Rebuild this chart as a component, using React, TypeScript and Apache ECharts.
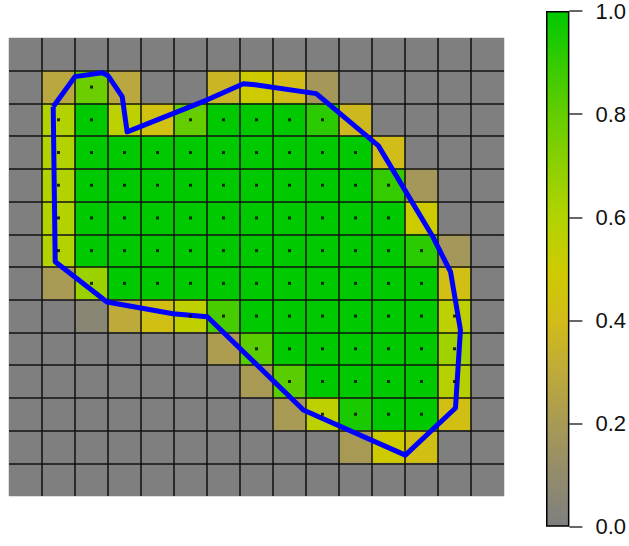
import React, { useEffect, useRef } from "react";
import * as echarts from "echarts";

// Raster values (rows listed top to bottom, 15 columns each)
const CELL_VALUES: number[][] = [
  [0, 0, 0, 0, 0, 0, 0, 0, 0, 0, 0, 0, 0, 0, 0],
  [0, 0.28, 0.78, 0.28, 0, 0, 0.36, 0.5, 0.4, 0.18, 0, 0, 0, 0, 0],
  [0, 0.6, 1, 0.56, 0.43, 0.8, 1, 1, 1, 0.92, 0.38, 0, 0, 0, 0],
  [0, 0.6, 1, 1, 1, 1, 1, 1, 1, 1, 1, 0.4, 0, 0, 0],
  [0, 0.6, 1, 1, 1, 1, 1, 1, 1, 1, 1, 0.9, 0.18, 0, 0],
  [0, 0.6, 1, 1, 1, 1, 1, 1, 1, 1, 1, 1, 0.5, 0, 0],
  [0, 0.6, 1, 1, 1, 1, 1, 1, 1, 1, 1, 1, 0.92, 0.18, 0],
  [0, 0.2, 0.66, 1, 1, 1, 1, 1, 1, 1, 1, 1, 1, 0.42, 0],
  [0, 0, 0.05, 0.3, 0.42, 0.55, 0.86, 1, 1, 1, 1, 1, 1, 0.56, 0],
  [0, 0, 0, 0, 0, 0, 0.22, 0.82, 1, 1, 1, 1, 1, 0.65, 0],
  [0, 0, 0, 0, 0, 0, 0, 0.2, 0.82, 1, 1, 1, 1, 0.58, 0],
  [0, 0, 0, 0, 0, 0, 0, 0, 0.2, 0.56, 0.95, 1, 1, 0.42, 0],
  [0, 0, 0, 0, 0, 0, 0, 0, 0, 0, 0.2, 0.5, 0.42, 0, 0],
  [0, 0, 0, 0, 0, 0, 0, 0, 0, 0, 0, 0, 0, 0, 0],
];

// Columns (per row, top to bottom) whose cell centre carries a dot
const DOT_COLUMNS: number[][] = [
  [],
  [2],
  [1, 2, 5, 6, 7, 8, 9],
  [1, 2, 3, 4, 5, 6, 7, 8, 9, 10],
  [1, 2, 3, 4, 5, 6, 7, 8, 9, 10, 11],
  [1, 2, 3, 4, 5, 6, 7, 8, 9, 10, 11],
  [1, 2, 3, 4, 5, 6, 7, 8, 9, 10, 11, 12],
  [2, 3, 4, 5, 6, 7, 8, 9, 10, 11, 12],
  [5, 6, 7, 8, 9, 10, 11, 12, 13],
  [7, 8, 9, 10, 11, 12, 13],
  [8, 9, 10, 11, 12, 13],
  [9, 10, 11, 12],
  [],
  [],
];

// Polygon outline (x from left edge, y from bottom edge, in cell units)
const POLY_X = [1.34, 2.0, 2.82, 3.0, 3.43, 3.58, 6.01, 7.1, 7.46, 9.31, 11.19, 12.83, 13.38, 13.68, 13.53, 12.01, 8.92, 6.01, 4.97, 2.97, 1.4, 1.34];
const POLY_Y = [11.9, 12.82, 12.94, 12.85, 12.21, 11.13, 12.11, 12.6, 12.57, 12.3, 10.71, 7.95, 6.85, 5.08, 2.69, 1.25, 2.63, 5.48, 5.57, 5.93, 7.16, 11.9];

// Colour scale
const COLOR_STOPS = [
  "#7F7F7F", "#938C6B", "#A89A55", "#BEAA3A", "#D2BC18", "#CDCB00",
  "#B2D300", "#8DD000", "#64CD00", "#34CB00", "#00C900",
];
const SCALE_MIN = 0;
const SCALE_MAX = 1;
const SCALE_TICK = 0.2;

const NCOLS = 15;
const NROWS = 14;

export default function App() {
  const ref = useRef<HTMLDivElement>(null);

  useEffect(() => {
    const chart = echarts.init(ref.current!, null, { renderer: "svg" });

    const cells: number[][] = [];
    CELL_VALUES.forEach((row, r) => {
      row.forEach((v, c) => {
        cells.push([c, NROWS - 1 - r, v]);
      });
    });
    const dots: number[][] = [];
    DOT_COLUMNS.forEach((cols, r) => {
      cols.forEach((c) => dots.push([c + 0.5, NROWS - 1 - r + 0.5]));
    });
    const poly = POLY_X.map((x, i) => [x, POLY_Y[i]]);

    const gradient = new echarts.graphic.LinearGradient(
      0, 1, 0, 0,
      COLOR_STOPS.map((color, i) => ({ offset: i / (COLOR_STOPS.length - 1), color }))
    );

    const hiddenAxisParts = {
      axisLine: { show: false },
      axisTick: { show: false },
      axisLabel: { show: false },
    };

    chart.setOption({
      animation: false,
      backgroundColor: "#ffffff",
      grid: [
        { left: 9, top: 38, width: 495, height: 458 },
        { left: 546, top: 5.7, width: 24.7, height: 521 },
      ],
      xAxis: [
        {
          type: "value", gridIndex: 0, min: 0, max: NCOLS, interval: 1, z: 5,
          ...hiddenAxisParts,
          splitLine: { show: true, showMinLine: false, showMaxLine: false, lineStyle: { color: "#111", width: 1.5 } },
        },
        { type: "category", gridIndex: 1, data: ["scale"], show: false },
      ],
      yAxis: [
        {
          type: "value", gridIndex: 0, min: 0, max: NROWS, interval: 1, z: 5,
          ...hiddenAxisParts,
          splitLine: { show: true, showMinLine: false, showMaxLine: false, lineStyle: { color: "#111", width: 1.5 } },
        },
        {
          type: "value", gridIndex: 1, min: SCALE_MIN, max: SCALE_MAX, interval: SCALE_TICK,
          position: "right",
          axisLine: { show: false },
          axisTick: { show: true, length: 13, lineStyle: { color: "#333", width: 1.5 } },
          splitLine: { show: false },
          axisLabel: {
            show: true,
            margin: 26,
            fontSize: 22,
            fontFamily: "Liberation Sans, Arial, sans-serif",
            color: "#111",
            padding: [5, 0, 0, 0],
            formatter: (v: number) => v.toFixed(1),
          },
        },
      ],
      visualMap: {
        type: "continuous",
        show: false,
        min: SCALE_MIN,
        max: SCALE_MAX,
        dimension: 2,
        seriesIndex: 0,
        inRange: { color: COLOR_STOPS },
      },
      series: [
        {
          type: "custom",
          xAxisIndex: 0,
          yAxisIndex: 0,
          z: 2,
          data: cells,
          renderItem: (params: any, api: any) => {
            const x = api.value(0);
            const y = api.value(1);
            const p0 = api.coord([x, y + 1]);
            const p1 = api.coord([x + 1, y]);
            return {
              type: "rect",
              shape: { x: p0[0], y: p0[1], width: p1[0] - p0[0], height: p1[1] - p0[1] },
              style: { fill: api.visual("color"), stroke: api.visual("color"), lineWidth: 0.5 },
            };
          },
        },
        {
          type: "line",
          xAxisIndex: 0,
          yAxisIndex: 0,
          z: 10,
          data: poly,
          symbol: "none",
          lineStyle: { color: "#0000FF", width: 5, join: "round" },
        },
        {
          type: "scatter",
          xAxisIndex: 0,
          yAxisIndex: 0,
          z: 12,
          data: dots,
          symbol: "rect",
          symbolSize: 3,
          itemStyle: { color: "#000" },
        },
        {
          type: "bar",
          xAxisIndex: 1,
          yAxisIndex: 1,
          data: [SCALE_MAX],
          barWidth: "100%",
          itemStyle: { color: gradient, borderColor: "#000", borderWidth: 1.5 },
        },
      ],
    });

    return () => chart.dispose();
  }, []);

  return (
    <div
      ref={ref}
      style={{ position: "absolute", left: 0, top: 0, width: 629, height: 546, background: "#fff" }}
    />
  );
}
